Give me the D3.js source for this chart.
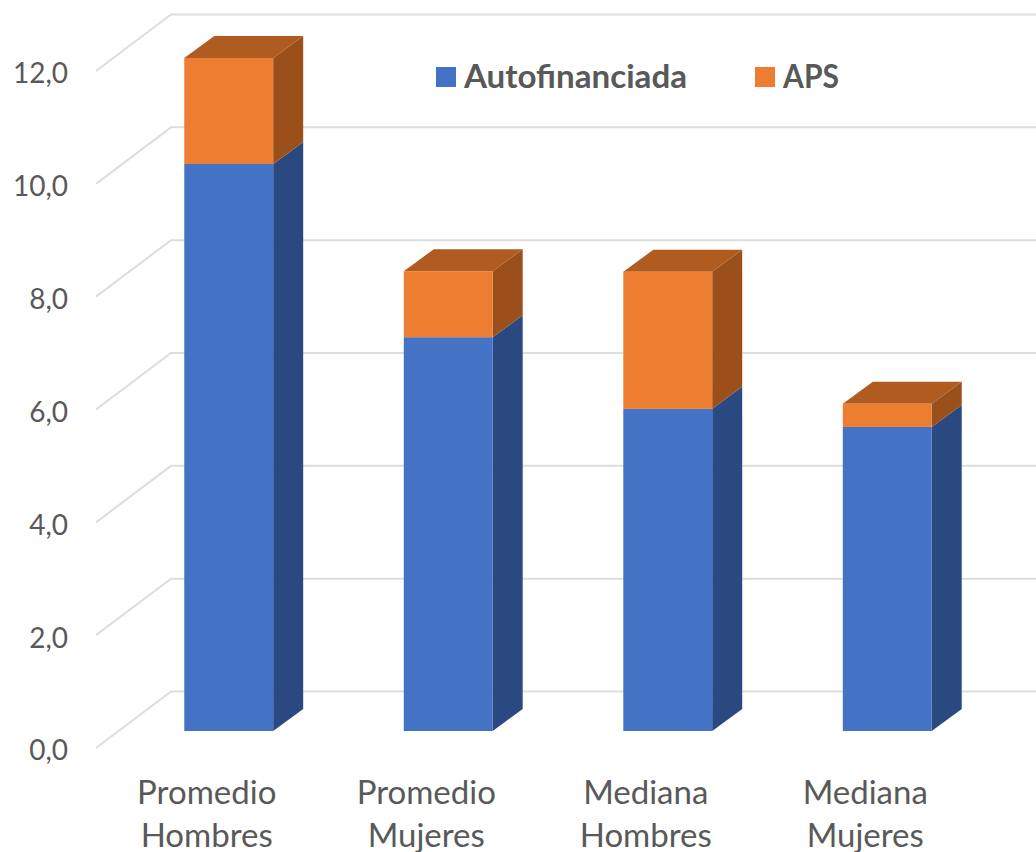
<!DOCTYPE html>
<html>
<head>
<meta charset="utf-8">
<script src="https://cdn.jsdelivr.net/npm/d3@7"></script>
<style>
    html, body { margin: 0; padding: 0; background: #fff; }
    svg { display: block; }
    text { font-family: Lato, "Open Sans", sans-serif; fill: #595959; }
</style>
</head>
<body>
<div id="chart"></div>
<script>
const categories = [["Promedio", "Hombres"], ["Promedio", "Mujeres"], ["Mediana", "Hombres"], ["Mediana", "Mujeres"]]
const autofinanciada = [10.05, 6.98, 5.71, 5.39]
const aps = [1.88, 1.17, 2.43, 0.41]
const yTicks = [0, 2, 4, 6, 8, 10, 12]
const seriesNames = ["Autofinanciada", "APS"]

const width = 1036, height = 852

const colors = {
    Autofinanciada: { front: "#4472C4", side: "#2A4980", top: "#34589A" },
    APS: { front: "#ED7D31", side: "#9B501C", top: "#B05B20" }
}

const svg = d3.select("#chart").append("svg")
    .attr("width", width)
    .attr("height", height)

const names = categories.map(d => d.join(" "))

const x = d3.scaleBand()
    .domain(names)
    .range([119.3, 996.7])
    .paddingInner(0.595)
    .paddingOuter(0.296)

// front edge of the side wall
const y = d3.scaleLinear().domain([0, 12]).range([748, 71])

const wallDx = 75, wallDy = 56.5
const barLift = 17, barDx = 30, barDy = 22

// gridlines: wall part + back part
const grid = svg.append("g")
yTicks.forEach(t => {
    const p = d3.path()
    p.moveTo(96, y(t))
    p.lineTo(96 + wallDx, y(t) - wallDy)
    p.lineTo(width, y(t) - wallDy)
    grid.append("path")
        .attr("d", p.toString())
        .attr("fill", "none")
        .attr("stroke", "#DDDDDD")
        .attr("stroke-width", 2)
})

// y axis labels
const yAxis = svg.append("g")
    .attr("transform", "translate(71,3)")
    .call(d3.axisLeft(y).tickValues(yTicks).tickSize(0).tickFormat(d => d3.format(".1f")(d).replace(".", ",")))
yAxis.select(".domain").remove()
yAxis.selectAll("text").attr("font-size", 28).attr("style", "font-family: Lato; fill: #595959")

// stacked bars
const rows = names.map((n, i) => ({ name: n, Autofinanciada: autofinanciada[i], APS: aps[i] }))
const stacked = d3.stack().keys(seriesNames)(rows)

const poly = (pts, color) => svg.append("polygon")
    .attr("points", pts.map(p => p.join(",")).join(" "))
    .attr("fill", color)

stacked.forEach(layer => {
    const c = colors[layer.key]
    layer.forEach(d => {
        const x0 = x(d.data.name), x1 = x0 + x.bandwidth()
        const yb = y(d[0]) - barLift, yt = y(d[1]) - barLift
        poly([[x1, yb], [x1 + barDx, yb - barDy], [x1 + barDx, yt - barDy], [x1, yt]], c.side)
        if (layer.key === "APS") {
            poly([[x0, yt], [x0 + barDx, yt - barDy], [x1 + barDx, yt - barDy], [x1, yt]], c.top)
        }
        svg.append("rect")
            .attr("x", x0)
            .attr("y", yt)
            .attr("width", x.bandwidth())
            .attr("height", yb - yt)
            .attr("fill", c.front)
    })
})

// category labels, two lines each
const xAxis = svg.append("g")
    .attr("transform", "translate(-22,0)")
categories.forEach((lines, i) => {
    const cx = x(names[i]) + x.bandwidth() / 2
    lines.forEach((line, j) => {
        xAxis.append("text")
            .attr("x", cx)
            .attr("y", 804 + j * 43)
            .attr("text-anchor", "middle")
            .attr("font-size", 33)
            .text(line)
    })
})

// legend
const legendX = [436, 755]
const legendWidth = [223, 56]
seriesNames.forEach((name, i) => {
    svg.append("rect")
            .attr("x", legendX[i])
            .attr("y", 67)
            .attr("width", 20)
            .attr("height", 20)
            .attr("fill", colors[name].front)
    svg.append("text")
            .attr("x", legendX[i] + 28)
            .attr("y", 88)
            .attr("font-size", 32)
            .attr("font-weight", 700)
            .attr("textLength", legendWidth[i])
            .attr("lengthAdjust", "spacingAndGlyphs")
            .text(name)
})
</script>
</body>
</html>
